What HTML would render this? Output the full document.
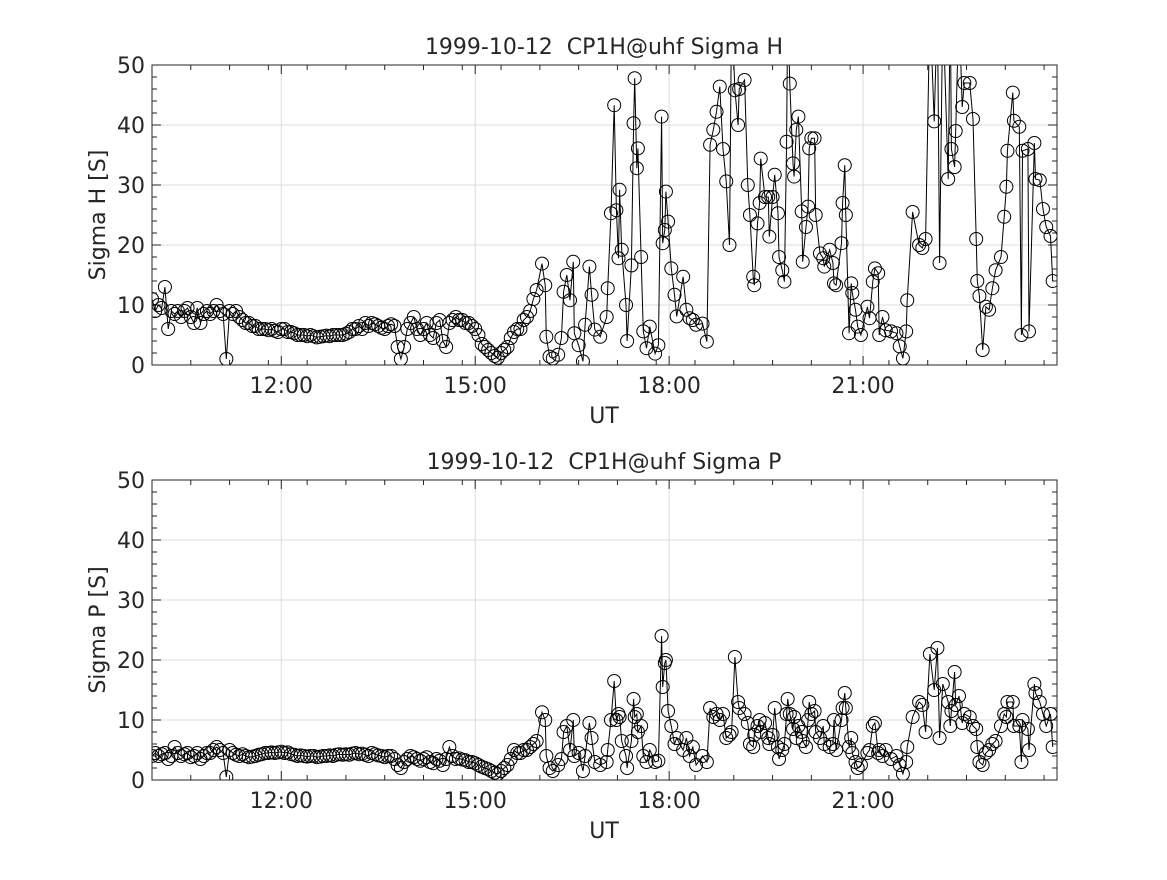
<!DOCTYPE html>
<html><head><meta charset="utf-8"><style>
body{margin:0;background:#fff}
svg text{font-family:"DejaVu Sans","Liberation Sans",sans-serif;fill:#262626;white-space:pre}
</style></head><body>
<svg id="chart" width="1167" height="875" viewBox="0 0 1167 875" xmlns="http://www.w3.org/2000/svg">
<rect width="1167" height="875" fill="#fff"/>
</svg>
<script>
// times in minutes of day
const times=[600,603,606,609,612,615,618,621,624,627,630,633,636,639,642,645,648,651,654,657,
660,663,666,669,672,675,678,681,684,687,690,693,696,699,702,705,708,711,714,717,
720,723,726,729,732,735,738,741,744,747,750,753,756,759,762,765,768,771,774,777,
780,783,786,789,792,795,798,801,804,807,810,813,816,819,822,825,828,831,834,837,
840,843,846,849,852,855,858,861,864,867,870,873,876,879,882,885,888,891,894,897,
900,903,906,909,912,915,918,921,924,927,930,933,936,939,942,945,948,951,954,957,
962,965,966,969,972,977,980,982,985,988,991,992,996,1000,1002,1006,1008,1011,1016,1022,1023,1026,1029,1031,1033,1034,1036,1040,1041,1045,1047,1048,1050,1051,1054,1056,1059,1062,1067,1070,1073,1074,1076,1077,1079,1082,1085,1087,1093,1096,1099,1102,1105,1111,1115,1118,1121,1124,1127,1130,1133,1136,1138,1141,1144,1145,1150,1153,1155,1158,1159,1162,1164,1165,1169,1172,1173,1176,1178,1181,1182,1185,1187,1189,1190,1192,1195,1196,1198,1200,1203,1204,1207,1209,1210,1212,1215,1216,1220,1223,1224,1229,1232,1233,1235,1240,1241,1243,1244,1247,1249,1250,1253,1255,1258,1264,1266,1269,1271,1274,1275,1278,1281,1286,1291,1294,1297,1300,1301,1306,1312,1315,1318,1322,1326,1329,1331,1334,1339,1341,1342,1345,1346,1349,1352,1354,1359,1362,1365,1366,1368,1371,1374,1377,1380,1383,1388,1391,1393,1394,1399,1400,1405,1407,1408,1413,1414,1419,1420,1424,1427,1430,1434,1436];
const sigmaH=[11,9,10,9.5,13,6,9,8.5,9,8,9,9.5,8,7,9.5,7,8.5,9,8.5,9,
10,9,8.5,1,9,8.5,9,8,7.5,7,7,6.5,6.5,6,6,6,5.8,6,5.7,5.5,
6,6,5.5,5.5,5.3,5,5,5,4.8,5,4.8,4.6,4.7,4.8,4.9,4.8,5,5,5,5,
5.2,5.5,6,6,6.5,6,7,6.5,7,6.8,6.5,6.2,6,6.5,6.8,6.5,3,1,3,6,
7,8,6,5,6,7,5,4.5,7,7.5,4,3,7,7.5,8,7.5,7.5,7,7,6.5,
6,5,3.5,3,2.5,2,1.5,1.2,2,2.5,3,4.5,5.5,6,6,7.5,8,9,11,12.5,
16.9,13.3,4.7,1.4,1.1,1.7,4.5,12.2,15,10.8,17.2,5.3,3.3,0.6,6.7,16.4,11.7,5.9,4.7,8,12.8,25.3,43.3,25.8,17.8,29.2,19.2,10,4,16.6,40.3,47.8,32.8,36.1,18,5.6,2.8,6.4,1.9,3.3,41.4,20.3,22.5,28.9,23.9,16.1,11.7,8.1,14.7,9.2,7.8,7.5,6.7,6.9,3.9,36.7,39.2,42.2,46.4,36,30.6,20,60,45.8,40,46,47.5,30,25,14.7,13.3,23.6,27,34.4,28,28,21.4,28,31.7,25.3,18,15.8,13.9,37.2,60,46.9,33.6,31.4,39.2,41.4,25.6,17.2,23,26.4,36.1,37.8,37.8,25,18.6,17.8,16.4,19.2,17,13.6,13.3,20.3,27,33.3,25,5.3,13.6,12,9.2,6.4,5,9.7,7.8,13.9,16.1,15.3,5,8,5.8,5.6,5.3,3.1,1.1,5.6,10.8,25.5,20,19.5,21,60,40.6,60,17,60,31,60,36,33,39,60,43,47,47,41,21,14,11.5,2.5,9.7,9.2,12.8,15.8,18,24.7,29.7,35.7,45.4,40.7,39.7,5,35.7,36,5.6,37,31,30.8,26,23,21.5,14];
const sigmaP=[4,4.5,4,4.3,4.5,3.5,4,5.5,4.5,4,4.3,4.5,3.8,4,4.5,3.5,4,4.5,4.5,5,
5.5,5,4.5,0.5,5,4.5,4.2,4,4.3,4,3.8,3.9,4,4.2,4.3,4.5,4.5,4.6,4.5,4.6,
4.7,4.5,4.6,4.3,4.2,4,4.1,4,3.9,4,4,3.8,3.9,4,4,4.1,4,4.2,4.3,4.2,
4.3,4.2,4.4,4.5,4.3,4.4,4.2,4,4.5,4.3,4.1,4,3.8,4,4,3.5,2.5,2,3,3.5,
4,3.8,3.5,3.2,3.5,3.8,3,2.8,3.5,3.2,2.5,3.5,5.5,4,3.5,3.6,3.4,3.3,3,3,
2.8,2.5,2.2,2,1.8,1.5,1.2,1,1.5,2,2.5,3.5,5,4.5,4.5,5,5,5.5,6,6.5,
11.3,10,4,2,1.5,2.5,3.5,8,9,5,10,4,4.5,1.5,4,9.5,7,3,2.5,3,5,10,16.5,10,11,10.5,6.5,4,2,6.5,13.5,10.5,11,8,9,4,3,5,3,3.2,24,15.5,19.5,20,11.5,9,6,7,5,7,4,5.5,2.5,4,3,12,10.5,11,10,11,7,7.5,8,20.5,13,12,11,9.5,6,5.5,7.5,9,10,8,9.5,7,6,7.5,12,5.5,3.5,5,6,11,13.5,11,8.5,10.5,7,9,8,6.5,5.5,10,13,11,11.5,8,7,9,6,5.5,6,10,5,10,12,14.5,12,5.5,7,4.5,3,2,2.5,4.5,5,9,9.5,4.5,5,4,5,3.5,4,2.5,1,3,5.5,10.5,13,12.5,8,21,15,22,7,16,13,9,11.5,18,12.5,14,9.5,11,10.5,9,8.5,5.5,3,2.5,4.5,5,6,6.5,9,11,10.5,13,13,9,9,3,10,8.5,5,16,14.5,13,11,9,11,5.5];
const xTickVals=[720,900,1080,1260];
const xTickLabels=["12:00","15:00","18:00","21:00"];
const yTickVals=[0,10,20,30,40,50];

const NS="http://www.w3.org/2000/svg";
const svg=document.getElementById('chart');
const X0=152,X1=1057,T0=600,T1=1440;
const xs=t=>X0+(t-T0)/(T1-T0)*(X1-X0);
function mk(tag,attrs,parent){const e=document.createElementNS(NS,tag);for(const k in attrs)e.setAttribute(k,attrs[k]);(parent||svg).appendChild(e);return e;}

function panel(idx,top,vals,title,ylab){
  const bot=top+300;
  const ys=v=>bot-v/50*300;
  const g=mk('g',{});
  
  
  xTickVals.forEach(t=>{const l=mk('line',{x1:xs(t),x2:xs(t),y1:top,y2:bot,stroke:'#dcdcdc','stroke-width':1},g);
    });
  yTickVals.forEach(v=>{const l=mk('line',{x1:X0,x2:X1,y1:ys(v),y2:ys(v),stroke:'#dcdcdc','stroke-width':1},g);
    });
  for(let t=T0+36;t<T1;t+=36){[[bot,bot-5],[top,top+5]].forEach(p=>mk('line',{x1:xs(t),x2:xs(t),y1:p[0],y2:p[1],stroke:'#262626'},g));}
  for(let v=2;v<50;v+=2){[[X0,X0+5],[X1,X1-5]].forEach(p=>mk('line',{x1:p[0],x2:p[1],y1:ys(v),y2:ys(v),stroke:'#262626'},g));}
  xTickVals.forEach((t,i)=>{
    [[bot,bot-9],[top,top+9]].forEach(p=>mk('line',{x1:xs(t),x2:xs(t),y1:p[0],y2:p[1],stroke:'#262626'},g));
    const tx=mk('text',{x:xs(t),y:bot+28,'text-anchor':'middle','font-size':22},g);tx.textContent=xTickLabels[i];
    
  });
  yTickVals.forEach(v=>{
    [[X0,X0+9],[X1,X1-9]].forEach(p=>mk('line',{x1:p[0],x2:p[1],y1:ys(v),y2:ys(v),stroke:'#262626'},g));
    const tx=mk('text',{x:X0-7,y:ys(v)+8,'text-anchor':'end','font-size':22},g);tx.textContent=v;
    
  });
  const cid='clip'+idx;
  const cp=mk('clipPath',{id:cid},g);mk('rect',{x:X0,y:top,width:X1-X0,height:300},cp);
  const sg=mk('g',{'clip-path':'url(#'+cid+')'},g);
  
  let d='';vals.forEach((v,i)=>{d+=(i?'L':'M')+xs(times[i]).toFixed(1)+' '+ys(v).toFixed(1);});
  const pl=mk('path',{d:d,fill:'none',stroke:'#000','stroke-width':1},sg);
  
  vals.forEach((v,i)=>{const c=mk('circle',{cx:xs(times[i]),cy:ys(v),r:6.5,fill:'none',stroke:'#000','stroke-width':1},sg);
    });
  const fr=mk('rect',{x:X0,y:top,width:X1-X0,height:300,fill:'none',stroke:'#262626','stroke-width':1},g);
  
  const tt=mk('text',{x:604,y:top-11,'text-anchor':'middle','font-size':22,fill:'#000'},g);tt.textContent=title;
  
  const xl=mk('text',{x:604,y:bot+58,'text-anchor':'middle','font-size':22},g);xl.textContent='UT';
  
  const yl=mk('text',{x:0,y:0,'text-anchor':'middle','font-size':22,transform:'translate(105,'+(top+150)+') rotate(-90)'},g);yl.textContent=ylab;
  
}
panel(0,65,sigmaH,'1999-10-12  CP1H@uhf Sigma H','Sigma H [S]');
panel(1,480,sigmaP,'1999-10-12  CP1H@uhf Sigma P','Sigma P [S]');
</script>
</body></html>
